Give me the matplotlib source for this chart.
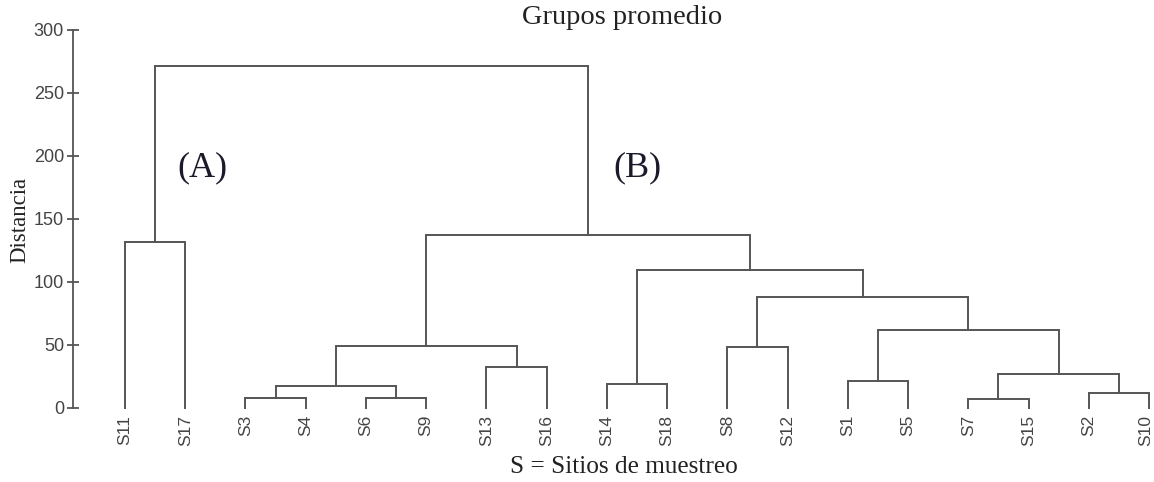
import matplotlib
matplotlib.use("Agg")
import matplotlib.pyplot as plt
import matplotlib.transforms as mtransforms

plt.rcParams['font.family'] = ['Liberation Sans', 'DejaVu Sans']

# orden de las hojas en el dendrograma
leaves = ['S11', 'S17', 'S3', 'S4', 'S6', 'S9', 'S13', 'S16', 'S14',
          'S18', 'S8', 'S12', 'S1', 'S5', 'S7', 'S15', 'S2', 'S10']

# uniones: (izquierda, derecha, distancia), nodos nuevos m1..m17
merge_left = ['S3', 'S6', 'S7', 'S2', 'm1', 'S14', 'S1', 'm3', 'S13',
              'S8', 'm5', 'm7', 'm10', 'm6', 'S11', 'm11', 'm15']
merge_right = ['S4', 'S9', 'S15', 'S10', 'm2', 'S18', 'S5', 'm4', 'S16',
               'S12', 'm9', 'm8', 'm12', 'm13', 'S17', 'm14', 'm16']
merge_height = [7.7, 8.2, 7.1, 11.6, 17.4, 19.0, 21.6, 26.9, 32.7,
                48.5, 49.0, 61.8, 88.0, 109.3, 131.7, 137.0, 271.0]

yticks = [0, 50, 100, 150, 200, 250, 300]
group_labels = ['(A)', '(B)']
group_pos = [(2.28, 190), (9.51, 190)]

fig = plt.figure(figsize=(11.54, 4.82), dpi=100)
ax = fig.add_axes([73 / 1154, 74 / 482, 1081 / 1154, 378.5 / 482])

col = '#555555'
pos = {name: (i + 1, 0.0) for i, name in enumerate(leaves)}
for k, (a, b, h) in enumerate(zip(merge_left, merge_right, merge_height)):
    xa, ya = pos[a]
    xb, yb = pos[b]
    ax.plot([xa, xa, xb, xb], [ya, h, h, yb], color=col, lw=1.4,
            solid_joinstyle='miter', clip_on=False)
    pos['m%d' % (k + 1)] = ((xa + xb) / 2, h)

ax.set_xlim(1 - 52 / 60.24, 18 + 5 / 60.24)
ax.set_ylim(0, 300)
for s in ['top', 'right', 'bottom']:
    ax.spines[s].set_visible(False)
ax.spines['left'].set_bounds(0, 300)
ax.spines['left'].set_color(col)
ax.spines['left'].set_linewidth(1.3)

ax.set_yticks(yticks)
ax.tick_params(axis='y', direction='inout', length=9, width=1.3, color=col,
               labelsize=13, labelcolor='#444444', pad=2)
ax.set_xticks(range(1, len(leaves) + 1))
ax.set_xticklabels(leaves, rotation=90, va='top')
ax.tick_params(axis='x', length=0, labelsize=12.5, labelcolor='#444444', pad=5)
# la ultima etiqueta queda pegada al borde: correrla un poco
last = ax.get_xticklabels()[-1]
last.set_transform(last.get_transform() +
                   mtransforms.ScaledTranslation(-3 / 100, 0, fig.dpi_scale_trans))

for lab, (x, y) in zip(group_labels, group_pos):
    ax.text(x, y, lab, fontsize=26, family='Liberation Serif',
            color='#1a1a2a', ha='center', va='center')

fig.text(622 / 1154, 1 - 18 / 482, 'Grupos promedio', fontsize=20.5,
         family='Liberation Serif', color='#222222', ha='center', va='center')
fig.text(624 / 1154, 1 - 467 / 482, 'S = Sitios de muestreo', fontsize=18.2,
         family='Liberation Serif', color='#222222', ha='center', va='center')
fig.text(20 / 1154, 1 - 220 / 482, 'Distancia', fontsize=16.5, rotation=90,
         family='Liberation Serif', color='#222222', ha='center', va='center')

fig.savefig('out.png', dpi=100)
